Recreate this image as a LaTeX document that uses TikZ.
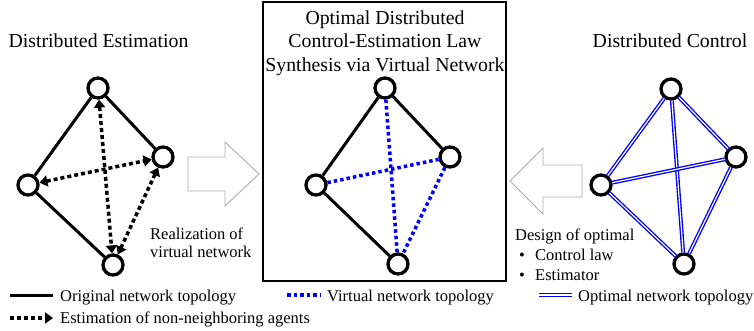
\documentclass[tikz,border=0pt]{standalone}
\usepackage{fontspec}
\setmainfont{Liberation Serif}
\usetikzlibrary{arrows.meta}
\begin{document}
\begin{tikzpicture}[x=1pt,y=-1pt,
  agent/.style={circle,draw=black,line width=3.3pt,fill=white,minimum size=20pt,inner sep=0pt},
  orig/.style={line width=3pt,black},
  est/.style={line width=3.5pt,black,dash pattern=on 4pt off 3pt,{Triangle[length=8pt,width=11pt]}-{Triangle[length=8pt,width=11pt]}},
  estone/.style={line width=3.5pt,black,dash pattern=on 4pt off 3pt,-{Triangle[length=8pt,width=11pt]}},
  virt/.style={line width=3.5pt,blue,dash pattern=on 3.5pt off 3pt},
  opt/.style={draw=blue,line width=1.35pt,double=white,double distance=1.2pt},
  head/.style={font=\fontsize{19.8}{23.5}\selectfont,anchor=base,inner sep=0pt},
  small/.style={font=\fontsize{16.5}{19}\selectfont,anchor=base west,inner sep=0pt},
  block/.style={draw=gray!65,line width=0.9pt,fill=white}]
\useasboundingbox (0,0) rectangle (754,331);

% central box
\draw[line width=1.6pt] (263,2) rectangle (506,281);

% headings
\node[head] (h1) at (98.5,48) {Distributed Estimation};
\node[head] (h2) at (670,48) {Distributed Control};
\node[head] (c1) at (385,25) {Optimal Distributed};
\node[head] (c2) at (385,48) {Control-Estimation Law};
\node[head] (c3) at (385,72) {Synthesis via Virtual Network};

% block arrows
\draw[block] (188,157) -- (225,157) -- (225,142) -- (259,174) -- (225,206) -- (225,191) -- (188,191) -- cycle;
\draw[block] (582,165) -- (543,165) -- (543,148) -- (510,181) -- (543,214) -- (543,197) -- (582,197) -- cycle;

% annotations
\node[small] (r1) at (150,239) {Realization of};
\node[small] (r2) at (150,257) {virtual network};
\node[small] (d1) at (515,240) {Design of optimal};
\node[small] (b1) at (519,260) {\textbullet};
\node[small] (d2) at (535,260) {Control law};
\node[small] (b2) at (519,280) {\textbullet};
\node[small] (d3) at (535,280) {Estimator};

% left graph
\node[agent] (A1) at (98,88) {};
\node[agent] (A2) at (163,157) {};
\node[agent] (A3) at (28,185) {};
\node[agent] (A4) at (113,265) {};
\draw[orig] (A1) -- (A2);
\draw[orig] (A1) -- (A3);
\draw[orig] (A3) -- (A4);
\draw[est] (A1) -- (A4);
\draw[est] (A3) -- (A2);
\draw[est] (A2) -- (A4);

% center graph
\node[agent] (B1) at (385,88) {};
\node[agent] (B2) at (450,157) {};
\node[agent] (B3) at (316,185) {};
\node[agent] (B4) at (398,264) {};
\draw[orig] (B1) -- (B2);
\draw[orig] (B1) -- (B3);
\draw[orig] (B3) -- (B4);
\draw[virt] (B1) -- (B4);
\draw[virt] (B3) -- (B2);
\draw[virt] (B2) -- (B4);

% right graph
\node[agent] (C1) at (671,89) {};
\node[agent] (C2) at (736,157) {};
\node[agent] (C3) at (601,185) {};
\node[agent] (C4) at (684,264) {};
\draw[opt] (C1) -- (C2);
\draw[opt] (C1) -- (C3);
\draw[opt] (C1) -- (C4);
\draw[opt] (C3) -- (C2);
\draw[opt] (C3) -- (C4);
\draw[opt] (C2) -- (C4);

% legend
\coordinate (la1) at (10,295); \coordinate (lb1) at (53,295);
\coordinate (la2) at (287,295); \coordinate (lb2) at (320,295);
\coordinate (la3) at (539,295); \coordinate (lb3) at (572,295);
\coordinate (la4) at (10,318); \coordinate (lb4) at (53,318);
\draw[orig] (la1) -- (lb1);
\draw[virt] (la2) -- (lb2);
\draw[opt] (la3) -- (lb3);
\draw[estone] (la4) -- (lb4);
\node[small] (g1) at (60,301) {Original network topology};
\node[small] (g2) at (327,301) {Virtual network topology};
\node[small] (g3) at (578,301) {Optimal network topology};
\node[small] (g4) at (60,323) {Estimation of non-neighboring agents};
\end{tikzpicture}
\end{document}
